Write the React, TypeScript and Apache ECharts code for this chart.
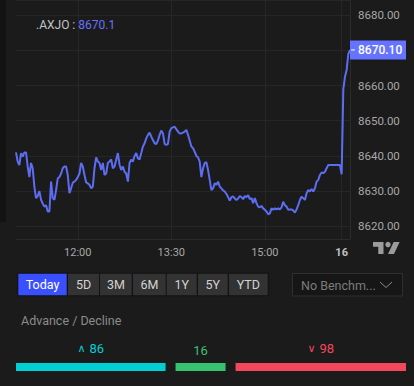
import React, { useEffect, useRef } from "react";
import * as echarts from "echarts";

// ---- data ----
const symbol = ".AXJO";
const prices: number[] = [
  8641, 8638.4, 8637.4, 8640.8, 8639.8, 8641, 8641, 8637, 8634, 8638, 8636.5,
  8631.3, 8628, 8628.6, 8630, 8627.5, 8626.5, 8625.6, 8626, 8624.2, 8624.2,
  8632.7, 8628, 8627.5, 8630.3, 8633.6, 8634, 8635, 8636.5, 8637, 8637,
  8634.6, 8629.4, 8630.8, 8632.4, 8632.7, 8633.2, 8634, 8635, 8638, 8637,
  8634.6, 8632.5, 8632.2, 8631.8, 8630.8, 8631.3,
  8636.5, 8639.6, 8638.4, 8638, 8636, 8638, 8634.6, 8635, 8638, 8638.4,
  8639, 8636.5, 8637, 8638.9, 8640.8, 8637.5, 8636, 8637, 8635.5, 8635,
  8632.7, 8638, 8638.9, 8638.4, 8640, 8640.8, 8639.3, 8639, 8640.8, 8642.7,
  8643.6, 8645, 8646, 8646.6, 8645.5, 8644.5, 8643.6, 8643.4, 8644.4, 8646,
  8647.2, 8646.4, 8643.4, 8643.1, 8643.4, 8646.9, 8647.9, 8648.1, 8648.3, 8647.6,
  8646.9, 8646.4, 8646.4, 8646.6, 8646.9, 8647.4, 8646, 8644.4, 8642.7, 8642.2,
  8641.2, 8640, 8639.6, 8638.4, 8634, 8636.5, 8638, 8638.2, 8636, 8633.2,
  8630.3, 8630.8, 8632.2, 8631.8, 8632.7, 8631.3, 8630.8, 8630.2, 8629.9, 8629.2,
  8628.3, 8627.3, 8628.3, 8628.5, 8627.9, 8627.5, 8627.9, 8628.6, 8628.3, 8627.7,
  8628.6, 8628.3, 8628.9, 8627.7, 8628, 8626.6, 8628, 8626.6, 8625.6, 8625.4,
  8625.8, 8625.1, 8624.7, 8624.2, 8623.4, 8623.7, 8625.1, 8624.7, 8625.1, 8624.8,
  8625.1, 8624.8, 8625.4, 8627, 8626, 8625.6, 8624.7, 8624.8, 8624.8, 8624.5,
  8623.9, 8624.8, 8626, 8627.5, 8628.4, 8628, 8627.5, 8629.4, 8630.3, 8629.9,
  8630.6, 8629.9, 8630.8, 8632.7, 8633.2, 8634.6, 8635.3, 8635.1, 8635.5, 8636.5,
  8637.4, 8637.4, 8637.4, 8637.4, 8637.4, 8637.4, 8637.4, 8637.4,
  8634.8, 8659, 8662.5, 8664.5, 8669, 8670.1,
];
const lastPrice = 8670.1;
const tickIndex = [37, 93, 149, 195];
const tickLabels = ["12:00", "13:30", "15:00", "16"];
const yMin = 8616.4;
const yMax = 8684.3;
const ranges = ["Today", "5D", "3M", "6M", "1Y", "5Y", "YTD"];
const benchmarkText = "No Benchm...";
const adTitle = "Advance / Decline";
const adNames = ["advance", "unchanged", "decline"];
const adCounts = [86, 16, 98];

const FONT = "Roboto";
const LINE = "#5d6df3";
const BOX = "#6673ff";
const AD_COLORS = ["#00cfd4", "#37c271", "#f4475b"];

export default function App() {
  const ref = useRef<HTMLDivElement>(null);
  useEffect(() => {
    if (!ref.current) return;
    const chart = echarts.init(ref.current, undefined, { renderer: "svg" });

    const categories = prices.map((_, i) => String(i));
    const isTick = (i: number) => tickIndex.indexOf(i) >= 0;

    // advance/decline widths: min width for small groups, rest proportional
    const gap = 10;
    const total = 390;
    const avail = total - gap * (adCounts.length - 1);
    const minW = 50;
    const sum = adCounts.reduce((a, b) => a + b, 0);
    const small = adCounts.map((c) => (c / sum) * avail < minW);
    const smallSum = adCounts.reduce((a, c, i) => (small[i] ? a + c : a), 0);
    const rest = avail - small.filter(Boolean).length * minW;
    const widths = adCounts.map((c, i) =>
      small[i] ? minW : (c / (sum - smallSum)) * rest
    );

    const adSeries: any[] = [];
    adCounts.forEach((c, i) => {
      const rich: any = {
        c: { fontSize: 11, color: AD_COLORS[i], fontFamily: "DejaVu Sans", padding: [0, 4, 0, 0] },
        v: { fontSize: 13, color: AD_COLORS[i], fontFamily: FONT },
      };
      const txt =
        i === 0 ? `{c|∧}{v|${c}}` : i === 2 ? `{c|∨}{v|${c}}` : `{v|${c}}`;
      adSeries.push({
        type: "bar",
        name: adNames[i],
        stack: "ad",
        xAxisIndex: 1,
        yAxisIndex: 1,
        barWidth: 8,
        data: [{ value: widths[i], itemStyle: { color: AD_COLORS[i] } }],
        label: {
          show: true,
          position: "top",
          distance: i === 1 ? 6 : 8,
          formatter: () => txt,
          rich,
        },
      });
      if (i < adCounts.length - 1) {
        adSeries.push({
          type: "bar",
          name: "gap" + i,
          stack: "ad",
          xAxisIndex: 1,
          yAxisIndex: 1,
          barWidth: 8,
          data: [gap],
          itemStyle: { color: "transparent" },
          silent: true,
        });
      }
    });

    chart.setOption({
      animation: false,
      backgroundColor: "#1b1b1b",
      textStyle: { fontFamily: FONT },
      grid: [
        { left: 16, right: 64, top: 0, bottom: 147 },
        { left: 16, right: 8, top: 363, height: 8 },
      ],
      xAxis: [
        {
          type: "category",
          gridIndex: 0,
          data: categories,
          boundaryGap: false,
          axisLine: { show: true, lineStyle: { color: "#2b2b2b" } },
          axisTick: { show: false },
          axisLabel: {
            interval: (i: number) => isTick(i),
            formatter: (_v: string, i: number) => {
              const k = tickIndex.indexOf(i);
              if (k < 0) return "";
              return k === tickLabels.length - 1 ? `{b|${tickLabels[k]}}` : tickLabels[k];
            },
            color: "#a8a8a8",
            fontSize: 11,
            fontFamily: FONT,
            margin: 8,
            rich: { b: { fontWeight: "bold", color: "#c0c0c0", fontSize: 11, fontFamily: FONT } },
          },
          splitLine: {
            show: true,
            interval: (i: number) => isTick(i),
            lineStyle: { color: "#262626", width: 1 },
          },
        },
        { type: "value", gridIndex: 1, min: 0, max: total, show: false },
      ],
      yAxis: [
        {
          type: "value",
          gridIndex: 0,
          position: "right",
          min: yMin,
          max: yMax,
          axisLine: { show: true, lineStyle: { color: "#2b2b2b" } },
          axisTick: { show: false },
          splitLine: { show: true, lineStyle: { color: "#262626", width: 1 } },
          axisLabel: {
            color: "#a8a8a8",
            fontSize: 11.5,
            fontFamily: FONT,
            margin: 8,
            showMinLabel: false,
            showMaxLabel: false,
            // the last-price tag covers the tick label nearest to it
            formatter: (v: number) => (Math.abs(v - lastPrice) < 4 ? "" : v.toFixed(2)),
          },
        },
        { type: "category", gridIndex: 1, data: ["ad"], show: false },
      ],
      series: [
        {
          type: "line",
          name: symbol,
          xAxisIndex: 0,
          yAxisIndex: 0,
          data: prices,
          showSymbol: false,
          symbol: "none",
          lineStyle: { color: LINE, width: 2 },
          itemStyle: { color: LINE },
        },
        ...adSeries,
      ],
    });

    const pt = chart.convertToPixel({ seriesIndex: 0 }, [prices.length - 1, lastPrice]) as number[];
    const py = pt[1];

    const btnX = [
      [18.3, 66.7], [68, 99], [100, 131.7], [133, 165.7], [166.7, 196.7], [198, 227.7], [229, 267.7],
    ];
    const btnY = 273.7;
    const btnH = 21.6;
    const graphics: any[] = [
      { type: "rect", shape: { x: 0, y: 0, width: 6, height: 222 }, style: { fill: "#131313" }, z: 0 },
      {
        type: "text",
        x: 36,
        y: 25,
        style: {
          text: `{a|${symbol} : }{b|${lastPrice.toFixed(1)}}`,
          verticalAlign: "middle",
          rich: {
            a: { fill: "#c4c4c4", fontSize: 12, fontFamily: FONT },
            b: { fill: BOX, fontSize: 12, fontFamily: FONT },
          },
        },
      },
      { type: "rect", shape: { x: 350, y: py - 9.5, width: 56, height: 19 }, style: { fill: BOX }, z: 10 },
      { type: "line", shape: { x1: 351, y1: py, x2: 355, y2: py }, style: { stroke: "#ffffff", lineWidth: 1 }, z: 11 },
      {
        type: "text",
        x: 358,
        y: py,
        z: 11,
        style: {
          text: lastPrice.toFixed(2),
          fill: "#ffffff",
          fontSize: 12,
          fontWeight: 500,
          fontFamily: FONT,
          verticalAlign: "middle",
        },
      },
      {
        type: "tvlogo",
        x: 373,
        y: 239.3,
        scaleX: 0.75,
        scaleY: 0.67,
        style: { fill: "#9b9b9b" },
      },
      { type: "circle", shape: { cx: 388, cy: 244.6, r: 2.7 }, style: { fill: "#9b9b9b" } },
      { type: "rect", shape: { x: 17.3, y: 272.7, width: 251.4, height: 23.6 }, style: { fill: "#121212" } },
    ];
    ranges.forEach((r, i) => {
      const [x0, x1] = btnX[i];
      graphics.push({
        type: "rect",
        shape: { x: x0, y: btnY, width: x1 - x0, height: btnH },
        style: { fill: i === 0 ? "#3a50ff" : "#333333" },
      });
      graphics.push({
        type: "text",
        x: (x0 + x1) / 2,
        y: btnY + btnH / 2,
        style: {
          text: r,
          fill: i === 0 ? "#ffffff" : "#d2d2d2",
          fontSize: 12.5,
          fontFamily: FONT,
          align: "center",
          verticalAlign: "middle",
        },
      });
    });
    graphics.push(
      {
        type: "rect",
        shape: { x: 292.5, y: 273.5, width: 110, height: 22.5 },
        style: { fill: "#161616", stroke: "#2f2f2f", lineWidth: 1 },
      },
      {
        type: "text",
        x: 301,
        y: 285,
        style: {
          text: benchmarkText,
          fill: "#7c7c7c",
          fontSize: 12.5,
          fontFamily: FONT,
          verticalAlign: "middle",
        },
      },
      {
        type: "polyline",
        shape: { points: [[380, 282], [386, 287.5], [392, 282]] },
        style: { stroke: "#8a8a8a", lineWidth: 1, fill: "none" },
      },
      {
        type: "text",
        x: 21,
        y: 320,
        style: {
          text: adTitle,
          fill: "#8c8c8c",
          fontSize: 12.5,
          fontFamily: FONT,
          verticalAlign: "middle",
        },
      }
    );

    chart.setOption({ graphic: graphics });

    return () => chart.dispose();
  }, []);

  return (
    <div
      ref={ref}
      style={{ position: "fixed", left: 0, top: 0, width: 414, height: 386, background: "#1b1b1b" }}
    />
  );
}

echarts.graphic.registerShape(
  "tvlogo",
  (echarts.graphic as any).extendPath(
    "M14 22H7V11H0V4h14v18zM28 22h-8l7.5-18h8L28 22z",
    {}
  )
);
